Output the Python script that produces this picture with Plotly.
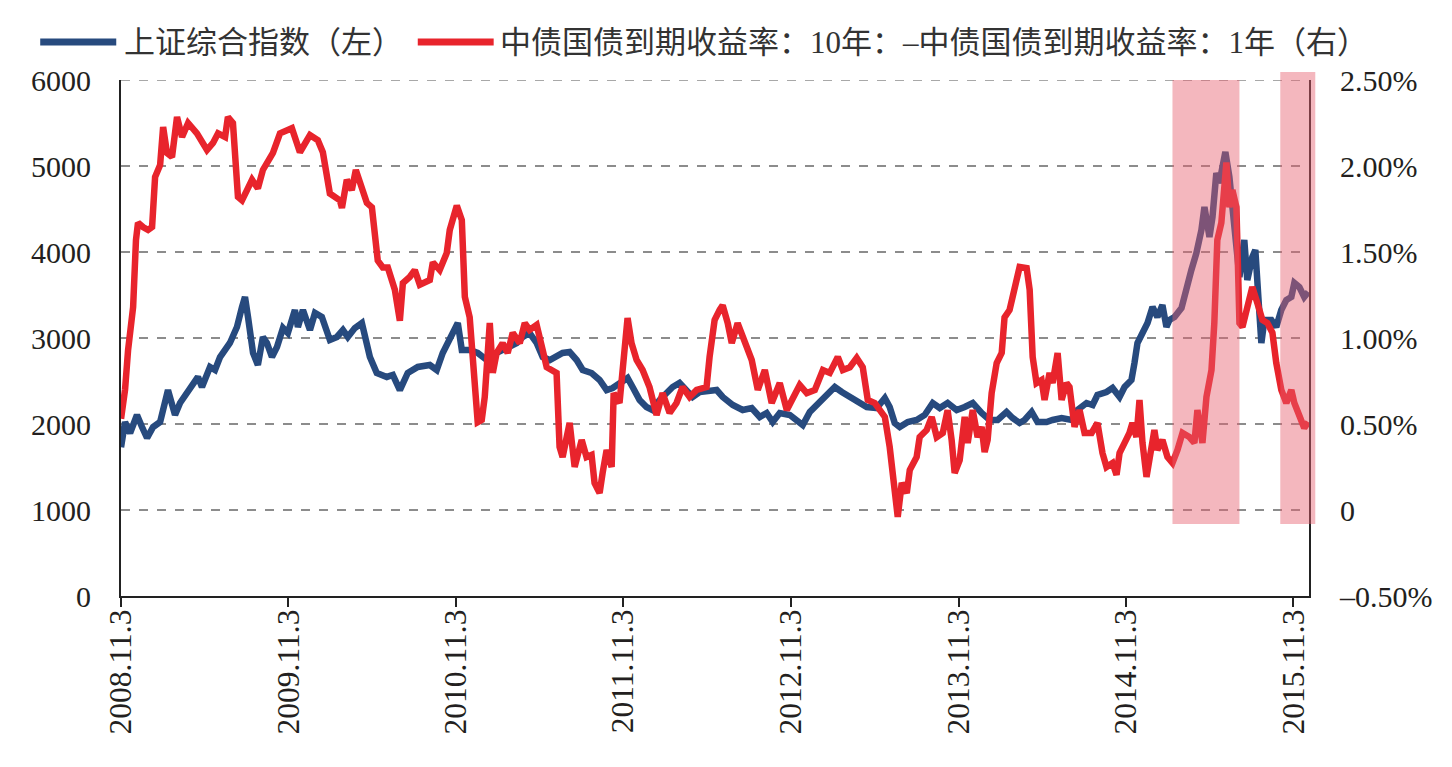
import pandas as pd
import plotly.graph_objects as go

# ---------------- data (time in decimal years) ----------------
sse_t = [2008.839, 2008.863, 2008.893, 2008.934, 2008.964, 2008.994, 2009.030, 2009.072, 2009.119, 2009.161,
         2009.191, 2009.251, 2009.298, 2009.322, 2009.370, 2009.400, 2009.430, 2009.489, 2009.531, 2009.561,
         2009.579, 2009.597, 2009.627, 2009.656, 2009.686, 2009.710, 2009.740, 2009.770, 2009.806, 2009.835,
         2009.877, 2009.895, 2009.925, 2009.967, 2009.997, 2010.038, 2010.086, 2010.128, 2010.164, 2010.193,
         2010.235, 2010.277, 2010.295, 2010.325, 2010.366, 2010.426, 2010.462, 2010.504, 2010.551, 2010.611,
         2010.683, 2010.724, 2010.760, 2010.802, 2010.850, 2010.874, 2010.921, 2010.969, 2011.023, 2011.082,
         2011.142, 2011.202, 2011.238, 2011.279, 2011.321, 2011.357, 2011.399, 2011.440, 2011.476, 2011.518,
         2011.560, 2011.596, 2011.649, 2011.697, 2011.739, 2011.775, 2011.816, 2011.864, 2011.894, 2011.936,
         2011.977, 2012.013, 2012.055, 2012.097, 2012.133, 2012.174, 2012.216, 2012.252, 2012.294, 2012.353,
         2012.395, 2012.431, 2012.491, 2012.550, 2012.604, 2012.652, 2012.693, 2012.729, 2012.771, 2012.831,
         2012.872, 2012.908, 2012.950, 2013.010, 2013.057, 2013.099, 2013.141, 2013.189, 2013.236, 2013.290,
         2013.350, 2013.398, 2013.427, 2013.457, 2013.487, 2013.535, 2013.588, 2013.636, 2013.684, 2013.726,
         2013.773, 2013.827, 2013.875, 2013.923, 2013.976, 2014.024, 2014.072, 2014.125, 2014.161, 2014.203,
         2014.233, 2014.275, 2014.310, 2014.364, 2014.400, 2014.454, 2014.513, 2014.549, 2014.603, 2014.639,
         2014.668, 2014.722, 2014.758, 2014.800, 2014.830, 2014.871, 2014.889, 2014.907, 2014.937, 2014.967,
         2014.997, 2015.026, 2015.056, 2015.080, 2015.098, 2015.128, 2015.170, 2015.199, 2015.229, 2015.259,
         2015.289, 2015.307, 2015.337, 2015.355, 2015.378, 2015.396, 2015.432, 2015.456, 2015.474, 2015.498,
         2015.516, 2015.545, 2015.563, 2015.593, 2015.611, 2015.629, 2015.647, 2015.665, 2015.707, 2015.736,
         2015.766, 2015.796, 2015.826, 2015.844, 2015.874, 2015.903, 2015.927]
sse_v = [1730, 2023, 1895, 2105, 1965, 1837, 1965, 2023, 2395, 2105,
         2244, 2430, 2547, 2430, 2663, 2628, 2779, 2942, 3128, 3360,
         3477, 3244, 2826, 2686, 3012, 2942, 2779, 2895, 3116, 3058,
         3326, 3128, 3326, 3093, 3291, 3244, 2977, 3012, 3093, 3012,
         3116, 3174, 3012, 2779, 2593, 2547, 2570, 2395, 2593, 2663,
         2686, 2628, 2826, 3000, 3174, 2860, 2860, 2826, 2744, 2826,
         2895, 2942, 3012, 3058, 2942, 2779, 2744, 2779, 2826, 2837,
         2744, 2628, 2593, 2512, 2395, 2419, 2477, 2535, 2430, 2279,
         2198, 2163, 2279, 2360, 2430, 2477, 2395, 2314, 2372, 2395,
         2395, 2314, 2221, 2163, 2186, 2081, 2128, 2023, 2128, 2105,
         2047, 1988, 2140, 2256, 2337, 2430, 2372, 2314, 2256, 2198,
         2186, 2302, 2198, 2012, 1965, 2023, 2047, 2105, 2244, 2186,
         2244, 2163, 2198, 2244, 2128, 2047, 2047, 2140, 2070, 2012,
         2047, 2140, 2023, 2023, 2047, 2070, 2047, 2163, 2244, 2221,
         2337, 2372, 2419, 2314, 2430, 2512, 2709, 2942, 3058, 3174,
         3360, 3244, 3384, 3128, 3209, 3244, 3349, 3593, 3791, 3988,
         4256, 4523, 4174, 4407, 4919, 4802, 5163, 4872, 4570, 4023,
         3709, 4140, 3674, 3942, 4023, 3477, 2942, 3209, 3209, 3128,
         3326, 3442, 3477, 3640, 3593, 3477, 3535]

spread_t = [2008.839, 2008.863, 2008.881, 2008.911, 2008.928, 2008.940, 2008.970, 2009.000, 2009.024, 2009.042,
            2009.072, 2009.090, 2009.113, 2009.143, 2009.173, 2009.203, 2009.239, 2009.292, 2009.352, 2009.388,
            2009.418, 2009.460, 2009.477, 2009.507, 2009.537, 2009.561, 2009.591, 2009.621, 2009.656, 2009.686,
            2009.746, 2009.788, 2009.859, 2009.907, 2009.967, 2010.014, 2010.044, 2010.086, 2010.146, 2010.158,
            2010.187, 2010.217, 2010.241, 2010.265, 2010.307, 2010.337, 2010.372, 2010.402, 2010.432, 2010.474,
            2010.504, 2010.522, 2010.563, 2010.593, 2010.623, 2010.683, 2010.701, 2010.742, 2010.784, 2010.802,
            2010.844, 2010.874, 2010.892, 2010.921, 2010.951, 2010.969, 2010.993, 2011.011, 2011.041, 2011.059,
            2011.082, 2011.118, 2011.148, 2011.178, 2011.220, 2011.250, 2011.279, 2011.321, 2011.357, 2011.381,
            2011.440, 2011.458, 2011.476, 2011.518, 2011.548, 2011.590, 2011.619, 2011.649, 2011.667, 2011.697,
            2011.715, 2011.739, 2011.769, 2011.781, 2011.816, 2011.846, 2011.864, 2011.888, 2011.918, 2011.954,
            2011.995, 2012.037, 2012.073, 2012.115, 2012.156, 2012.192, 2012.234, 2012.276, 2012.335, 2012.353,
            2012.383, 2012.413, 2012.431, 2012.461, 2012.485, 2012.520, 2012.562, 2012.604, 2012.640, 2012.682,
            2012.723, 2012.771, 2012.813, 2012.849, 2012.890, 2012.932, 2012.980, 2013.028, 2013.069, 2013.117,
            2013.147, 2013.189, 2013.230, 2013.266, 2013.296, 2013.338, 2013.368, 2013.398, 2013.427, 2013.457,
            2013.475, 2013.499, 2013.529, 2013.547, 2013.588, 2013.606, 2013.648, 2013.678, 2013.708, 2013.744,
            2013.773, 2013.797, 2013.815, 2013.845, 2013.875, 2013.893, 2013.923, 2013.952, 2013.976, 2013.994,
            2014.012, 2014.036, 2014.066, 2014.096, 2014.113, 2014.143, 2014.173, 2014.203, 2014.245, 2014.263,
            2014.281, 2014.304, 2014.334, 2014.352, 2014.382, 2014.400, 2014.430, 2014.454, 2014.483, 2014.501,
            2014.531, 2014.561, 2014.591, 2014.633, 2014.668, 2014.698, 2014.722, 2014.758, 2014.782, 2014.800,
            2014.830, 2014.859, 2014.877, 2014.901, 2014.919, 2014.937, 2014.961, 2014.979, 2015.008, 2015.026,
            2015.056, 2015.086, 2015.116, 2015.146, 2015.176, 2015.217, 2015.247, 2015.265, 2015.295, 2015.319,
            2015.349, 2015.366, 2015.384, 2015.408, 2015.438, 2015.456, 2015.474, 2015.498, 2015.516, 2015.534,
            2015.563, 2015.593, 2015.623, 2015.653, 2015.683, 2015.713, 2015.736, 2015.766, 2015.796, 2015.826,
            2015.844, 2015.874, 2015.903, 2015.927]
spread_v = [0.53, 0.70, 0.93, 1.18, 1.57, 1.67, 1.645, 1.628, 1.645, 1.936,
            2.006, 2.227, 2.076, 2.052, 2.285, 2.169, 2.25, 2.19, 2.093, 2.134,
            2.19, 2.169, 2.285, 2.25, 1.82, 1.80, 1.86, 1.92, 1.87, 1.977,
            2.076, 2.19, 2.22, 2.08, 2.18, 2.15, 2.08, 1.84, 1.80, 1.756,
            1.92, 1.86, 1.977, 1.90, 1.785, 1.76, 1.45, 1.41, 1.41, 1.28,
            1.10, 1.32, 1.355, 1.395, 1.31, 1.337, 1.44, 1.395, 1.494, 1.628,
            1.77, 1.686, 1.24, 1.12, 0.797, 0.51, 0.523, 0.657, 1.087, 0.797,
            0.913, 0.97, 0.913, 1.03, 0.97, 1.087, 1.047, 1.076, 0.93, 0.83,
            0.797, 0.366, 0.308, 0.506, 0.25, 0.407, 0.308, 0.32, 0.157, 0.099,
            0.215, 0.349, 0.25, 0.68, 0.622, 0.93, 1.116, 0.97, 0.872, 0.814,
            0.715, 0.552, 0.68, 0.564, 0.622, 0.715, 0.657, 0.698, 0.715, 0.89,
            1.105, 1.163, 1.19, 1.087, 0.97, 1.087, 0.988, 0.872, 0.698, 0.814,
            0.622, 0.738, 0.581, 0.657, 0.727, 0.68, 0.698, 0.814, 0.797, 0.89,
            0.814, 0.83, 0.884, 0.83, 0.64, 0.622, 0.581, 0.541, 0.366, 0.116,
            -0.04, 0.157, 0.099, 0.233, 0.308, 0.424, 0.465, 0.541, 0.424, 0.448,
            0.581, 0.407, 0.215, 0.29, 0.541, 0.39, 0.581, 0.424, 0.483, 0.337,
            0.407, 0.68, 0.855, 0.913, 1.12, 1.163, 1.30, 1.413, 1.407, 1.28,
            0.89, 0.738, 0.756, 0.64, 0.797, 0.738, 0.913, 0.64, 0.738, 0.715,
            0.483, 0.581, 0.448, 0.448, 0.506, 0.331, 0.25, 0.273, 0.204, 0.331,
            0.39, 0.448, 0.506, 0.424, 0.64, 0.39, 0.192, 0.308, 0.465, 0.349,
            0.407, 0.308, 0.273, 0.349, 0.448, 0.424, 0.39, 0.581, 0.39, 0.657,
            0.814, 1.087, 1.57, 1.67, 2.02, 1.76, 1.86, 1.76, 1.087, 1.064,
            1.18, 1.296, 1.203, 1.105, 1.087, 1.03, 0.855, 0.698, 0.622, 0.698,
            0.622, 0.552, 0.477, 0.512]

tick_dates = ["2008-11-03", "2009-11-03", "2010-11-03", "2011-11-03",
              "2012-11-03", "2013-11-03", "2014-11-03", "2015-11-03"]
tick_labels = ["2008.11.3", "2009.11.3", "2010.11.3", "2011.11.3",
               "2012.11.3", "2013.11.3", "2014.11.3", "2015.11.3"]
left_ticks = [0, 1000, 2000, 3000, 4000, 5000, 6000]
right_ticks = [-0.5, 0, 0.5, 1.0, 1.5, 2.0, 2.5]
right_labels = ["\u20130.50%", "0", "0.50%", "1.00%", "1.50%", "2.00%", "2.50%"]

# highlighted periods (decimal years) and their vertical extent (left-axis units)
shade_periods = [(2015.116, 2015.516, 6000), (2015.760, 2015.969, 6093)]
shade_bottom = 837

series_names = ["上证综合指数（左）", "中债国债到期收益率：10年：\u2013中债国债到期收益率：1年（右）"]

X_START = "2008-11-03"
X_END = "2015-12-07"

# ---------------- helpers ----------------
def to_date(t):
    y = int(t)
    a = pd.Timestamp(year=y, month=1, day=1)
    b = pd.Timestamp(year=y + 1, month=1, day=1)
    return a + (b - a) * (t - y)

sse_dates = [to_date(t) for t in sse_t]
spread_dates = [to_date(t) for t in spread_t]

x0 = pd.Timestamp(X_START)
x1 = pd.Timestamp(X_END)

def xpaper(t):
    return (to_date(t) - x0) / (x1 - x0)

BLUE = "#274a7e"
RED = "#e8242c"
FONT = "Liberation Serif, Times New Roman, serif"
TXT = "#231f20"
LEG_FONT = dict(family="Liberation Serif, Noto Sans CJK SC", size=31, color="#333333")

fig = go.Figure()
fig.add_trace(go.Scatter(x=sse_dates, y=sse_v, mode="lines", name=series_names[0],
                         line=dict(color=BLUE, width=6.5), yaxis="y"))
fig.add_trace(go.Scatter(x=spread_dates, y=spread_v, mode="lines", name=series_names[1],
                         line=dict(color=RED, width=6.5), yaxis="y2"))

shapes = []
# top dashed gridline (at the 6000 range edge)
shapes.append(dict(type="line", xref="paper", yref="y", x0=0, x1=1, y0=6000, y1=6000,
                   line=dict(color="#8c8c8c", width=1.5, dash="dash"), layer="below"))
for a, b, top in shade_periods:
    shapes.append(dict(type="rect", xref="paper", yref="paper",
                       x0=xpaper(a), x1=xpaper(b), y0=shade_bottom / 6000, y1=top / 6000,
                       fillcolor="rgba(231,95,111,0.45)", line=dict(width=0), layer="above"))

# manual legend
shapes.append(dict(type="line", xref="paper", yref="paper", x0=-0.068, x1=-0.004, y0=1.0736, y1=1.0736,
                   line=dict(color=BLUE, width=7)))
shapes.append(dict(type="line", xref="paper", yref="paper", x0=0.2498, x1=0.3137, y0=1.0736, y1=1.0736,
                   line=dict(color=RED, width=7)))
annotations = [
    dict(xref="paper", yref="paper", x=0.0005, y=1.0736, text=series_names[0], showarrow=False,
         xanchor="left", yanchor="middle", font=LEG_FONT),
    dict(xref="paper", yref="paper", x=0.317, y=1.0736, text=series_names[1], showarrow=False,
         xanchor="left", yanchor="middle", font=LEG_FONT),
]

fig.update_layout(
    width=1452, height=767, autosize=False,
    margin=dict(l=121, r=143, t=80, b=171, pad=0),
    paper_bgcolor="white", plot_bgcolor="white",
    showlegend=False,
    shapes=shapes, annotations=annotations,
    xaxis=dict(type="date", range=[X_START, X_END], tickvals=tick_dates, ticktext=tick_labels,
               tickangle=-90, ticks="outside", ticklen=9, tickwidth=2, tickcolor="#222",
               showline=True, linecolor="#222", linewidth=2, showgrid=False, zeroline=False,
               ticklabelstandoff=-10,
               tickfont=dict(family=FONT, size=31.5, color=TXT)),
    yaxis=dict(range=[0, 6000], tickvals=left_ticks, ticks="", showline=True, linecolor="#222",
               linewidth=2, showgrid=True, gridcolor="#8c8c8c", gridwidth=1.5, griddash="dash",
               zeroline=False, ticklabelstandoff=22,
               tickfont=dict(family=FONT, size=30, color=TXT)),
    yaxis2=dict(range=[-0.5, 2.5], overlaying="y", side="right", tickvals=right_ticks,
                ticktext=right_labels, ticks="", showline=True, linecolor="#222", linewidth=2,
                showgrid=False, zeroline=False, ticklabelstandoff=23,
                tickfont=dict(family=FONT, size=30, color=TXT)),
)

fig.write_html("out.html")
